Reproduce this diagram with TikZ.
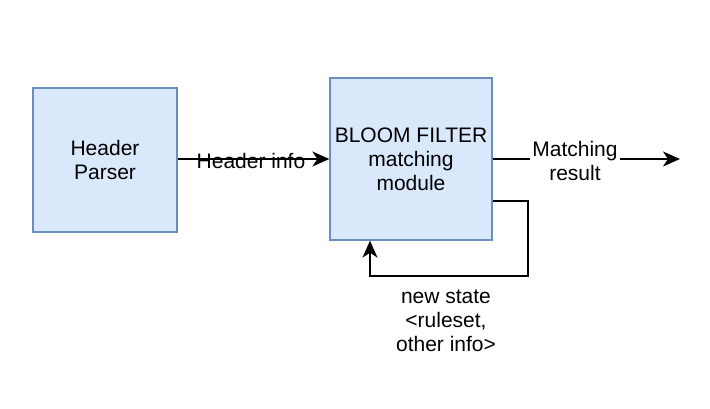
\documentclass[tikz,border=0pt]{standalone}
\usepackage{fontspec}
\setmainfont{Liberation Sans}
\usetikzlibrary{arrows.meta}
\definecolor{boxfill}{HTML}{DAE8FC}
\definecolor{boxline}{HTML}{6C8EBF}
\begin{document}
\begin{tikzpicture}[x=1pt,y=-1pt,
  block/.style={draw=boxline,fill=boxfill,line width=1.3pt,align=center,inner sep=0pt,
    font=\fontsize{21}{24}\selectfont},
  conn/.style={line width=1.5pt,-{Stealth[length=17pt,width=15pt,inset=5pt]}},
  lbl/.style={align=center,font=\fontsize{21}{24}\selectfont,inner sep=1pt}]
\useasboundingbox (0,0) rectangle (710,408);
\node[block,minimum width=144pt,minimum height=144pt] (hp) at (105,160) {Header\\Parser};
\node[block,minimum width=162pt,minimum height=162pt] (bf) at (411,159) {BLOOM FILTER\\matching\\module};
\coordinate (out) at (680,159);
\draw[conn] (hp.east |- 0,159) -- (bf.west |- 0,159);
\node[lbl] (hi) at (251,161) {Header info};
\draw[conn] (bf.east |- 0,159) -- (out);
\node[lbl,fill=white,inner sep=2pt] (mr) at (575,161) {Matching\\result};
\coordinate (c1) at (528,201);
\coordinate (c2) at (528,276);
\coordinate (c3) at (370,276);
\draw[conn] (bf.east |- c1) -- (c1) -- (c2) -- (c3) -- (c3 |- bf.south);
\node[lbl] (ns) at (446,321) {new state\\<ruleset,\\other info>};
\end{tikzpicture}
\end{document}
